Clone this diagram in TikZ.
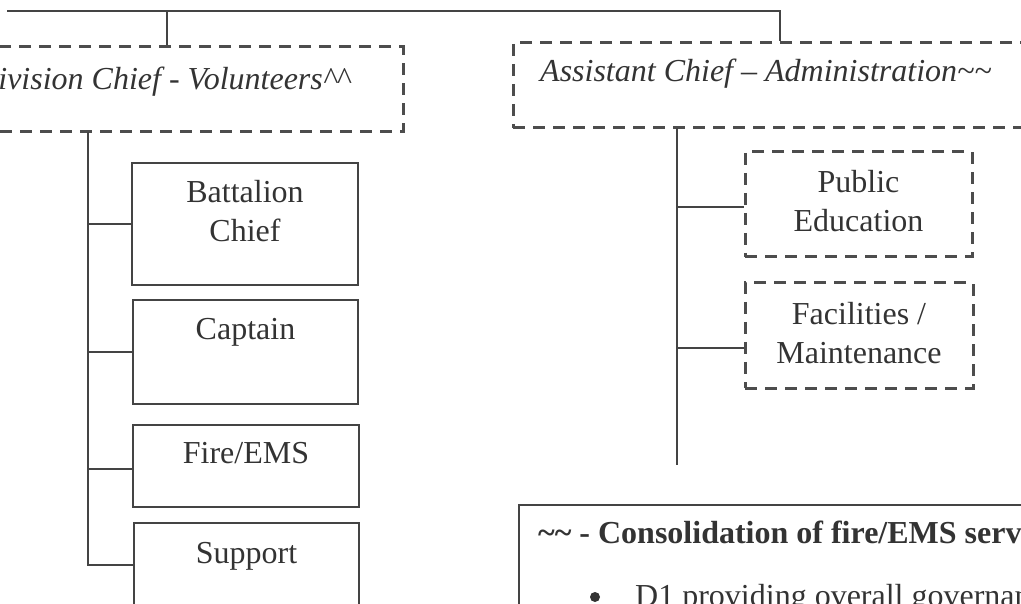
\documentclass[tikz,border=0pt]{standalone}
\usepackage{fontspec}
\setmainfont{Liberation Serif}
\definecolor{lineC}{HTML}{444444}
\definecolor{dashC}{HTML}{4D4D4D}
\definecolor{textC}{HTML}{333333}
\begin{document}
\begin{tikzpicture}[x=1pt,y=-1pt,
  conn/.style={draw=lineC, line width=1.6pt},
  dbox/.style={draw=dashC, line width=3pt, dash pattern=on 12pt off 8pt, rectangle, inner sep=0pt},
  sbox/.style={draw=lineC, line width=2pt, rectangle, inner sep=0pt},
  nbox/.style={draw=lineC, line width=1.6pt, rectangle, inner sep=0pt},
  lbl/.style={font=\fontsize{32}{39}\selectfont, align=center, text=textC, inner sep=0pt},
  ilbl/.style={font=\fontsize{32}{39}\selectfont\itshape, text=textC, inner sep=0pt},
  blbl/.style={font=\fontsize{32}{39}\selectfont\bfseries, text=textC, inner sep=0pt},
  dot/.style={circle, fill=textC, inner sep=0pt, minimum size=10pt},
]
\useasboundingbox (0,0) rectangle (1021,604);
\clip (0,0) rectangle (1021,604);

% head boxes
\node[dbox, minimum width=443pt, minimum height=85pt] (vol) at (181.5,89.5) {};
\node[dbox, minimum width=537pt, minimum height=85pt] (adm) at (781.5,85.5) {};
\node[ilbl, anchor=base east] (volt) at (350,90) {Division Chief - Volunteers\textasciicircum\textasciicircum};
\node[ilbl, anchor=base west] (admt) at (540,82) {Assistant Chief – Administration\textasciitilde\textasciitilde};

% top connector
\coordinate (tS) at (7,11);
\coordinate (tL) at (167,11);
\coordinate (tR) at (780,11);
\draw[conn] (tS) -- (tR) -- (tR |- adm.north);
\draw[conn] (tL) -- (tL |- vol.north);

% left column boxes
\node[sbox, minimum width=226pt, minimum height=122pt] (bc) at (245,224) {};
\node[sbox, minimum width=225pt, minimum height=104pt] (cap) at (245.5,352) {};
\node[sbox, minimum width=226pt, minimum height=82pt] (fe) at (246,466) {};
\node[sbox, minimum width=225pt, minimum height=97pt] (sup) at (246.5,571.5) {};
\node[lbl, anchor=base] (bct) at (245,203) {Battalion};
\node[lbl, anchor=base] (bct2) at (245,242) {Chief};
\node[lbl, anchor=base] (capt) at (245.5,340) {Captain};
\node[lbl, anchor=base] (fet) at (246,463) {Fire/EMS};
\node[lbl, anchor=base] (supt) at (246.5,563) {Support};

% left trunk
\coordinate (lt) at (88,132);
\coordinate (ySup) at (0,565);
\coordinate (yFe) at (0,469);
\draw[conn] (lt) -- (lt |- ySup) -- (sup.west |- ySup);
\draw[conn] (lt |- bc.west) -- (bc.west);
\draw[conn] (lt |- cap.west) -- (cap.west);
\draw[conn] (lt |- yFe) -- (fe.west |- yFe);

% right column boxes
\node[dbox, minimum width=227pt, minimum height=105pt] (pe) at (858.5,204.5) {};
\node[dbox, minimum width=228pt, minimum height=105pt] (fm) at (859,335.5) {};
\node[lbl, anchor=base] (pet) at (858.5,193) {Public};
\node[lbl, anchor=base] (pet2) at (858.5,232) {Education};
\node[lbl, anchor=base] (fmt) at (859,325) {Facilities /};
\node[lbl, anchor=base] (fmt2) at (859,363) {Maintenance};

% right trunk
\coordinate (rt) at (677,128);
\coordinate (rEnd) at (677,465);
\coordinate (yPe) at (0,207);
\coordinate (yFm) at (0,348);
\draw[conn] (rt) -- (rEnd);
\draw[conn] (rt |- yPe) -- (pe.west |- yPe);
\draw[conn] (rt |- yFm) -- (fm.west |- yFm);

% note box
\node[nbox, minimum width=563pt, minimum height=180pt] (note) at (800.5,595) {};
\node[blbl, anchor=base west] (notet) at (538,543) {\textasciitilde\textasciitilde\ - Consolidation of fire/EMS services};
\node[lbl, anchor=base west] (noteb) at (635,606) {D1 providing overall governance};
\node[dot] (bullet) at (595,597) {};
\end{tikzpicture}
\end{document}
